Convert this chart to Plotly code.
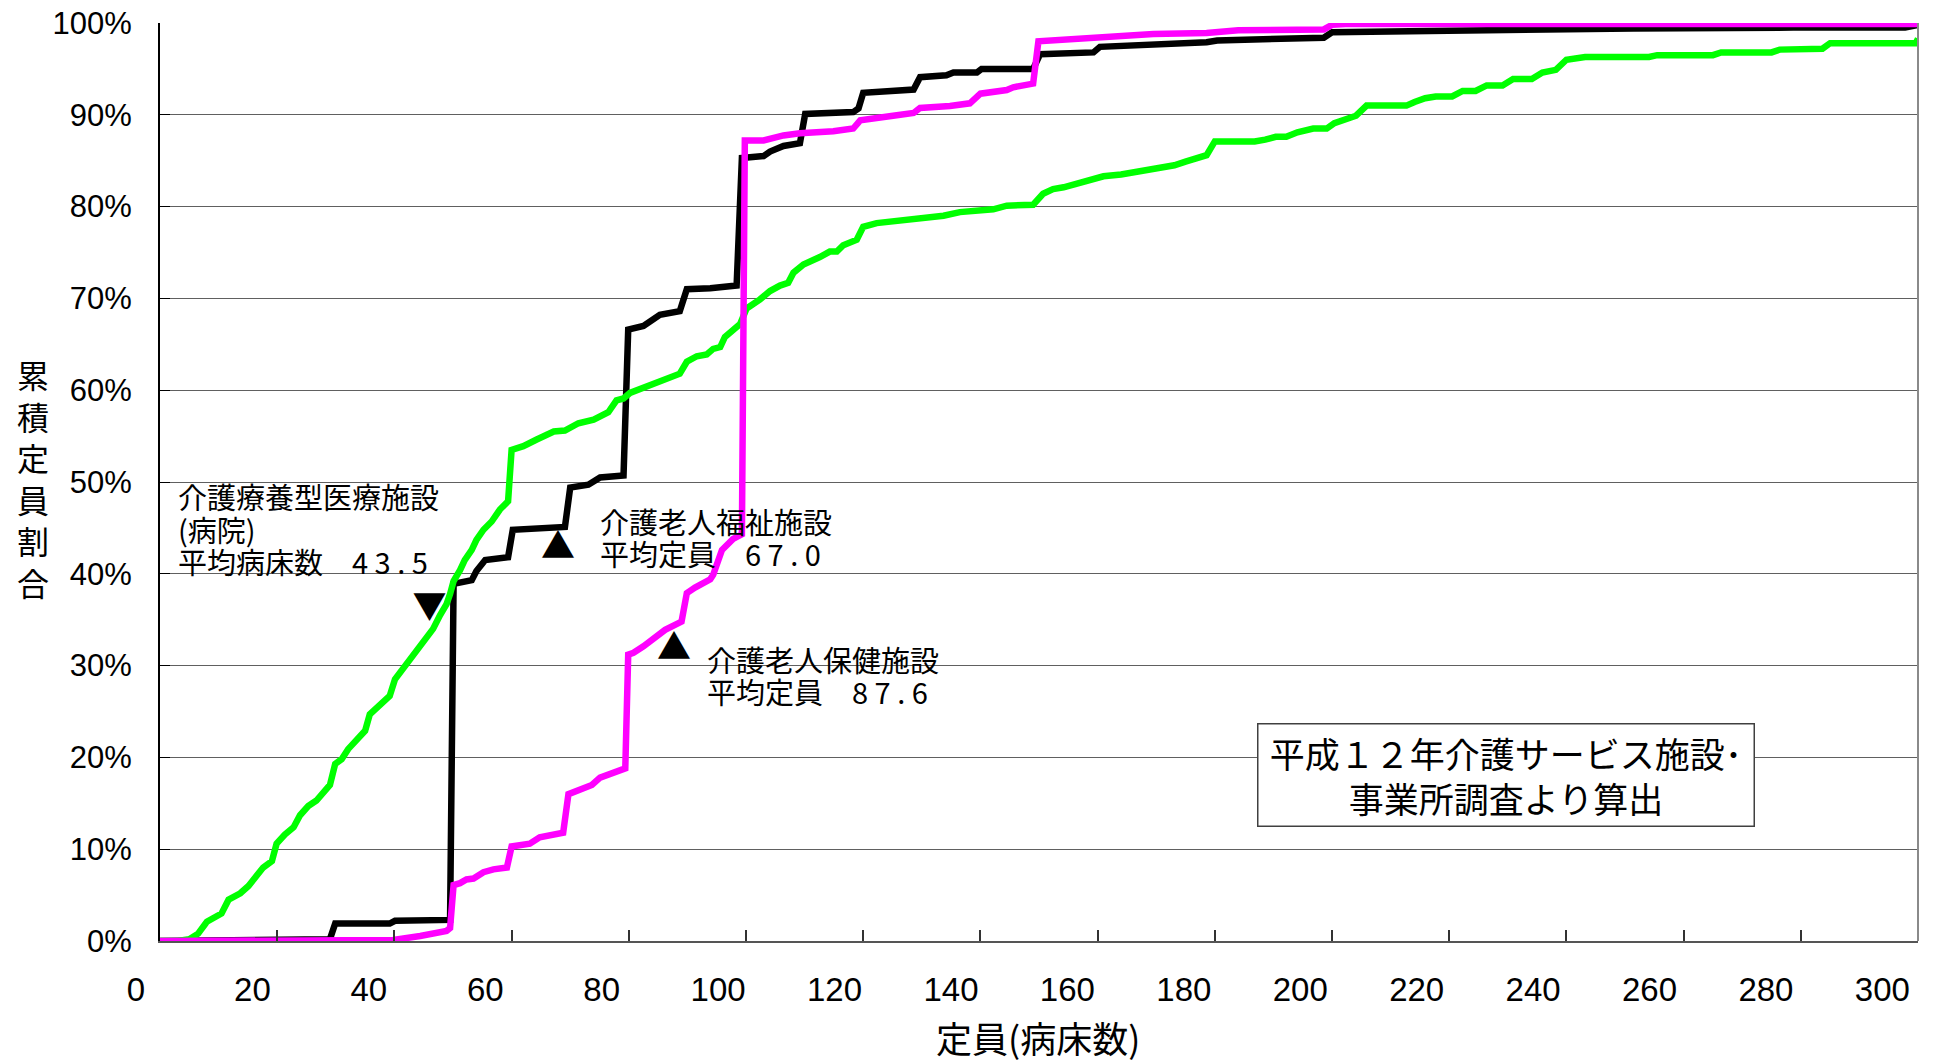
import plotly.graph_objects as go

# 介護療養型医療施設 (病院): cumulative capacity share (%) vs beds
ryoyo_x = [0, 3, 5, 6.5, 8, 9.4, 10.5, 11.7, 13.7, 15.1, 16.2, 17.6, 19.1, 19.9, 21.3, 22.8, 23.9, 25.3,
           26.7, 27.9, 29, 29.9, 31, 32.1, 33.6, 35, 35.8, 37.3, 38.4, 39.2, 40.1, 41.5, 42.4, 43.2, 44.7,
           45.5, 46.6, 47.8, 48.9, 49.5, 50.1, 51.2, 52, 53.2, 54, 55.2, 56.6, 58, 59.4, 60, 62, 64.2, 67.2,
           69.1, 71.4, 74, 76.5, 77.9, 79.1, 80.2, 82.5, 86.5, 88.7, 89.9, 91.6, 93.3, 94.4, 95.6, 96.4, 99,
           100.1, 102.4, 104.1, 105.8, 107.2, 108.1, 109.8, 112.6, 114.3, 115.5, 116.6, 118.9, 120, 122.3,
           126.3, 129.7, 133.7, 136.5, 142.2, 144.5, 149, 150.7, 152.4, 154.2, 156.4, 158.7, 161, 164, 166.8,
           168.6, 173.1, 175, 176.8, 178.6, 180, 186.8, 188.6, 190.4, 192.2, 194.1, 196.8, 199.1, 200.4,
           202.3, 204.1, 205.9, 212.7, 214.1, 215.9, 217.7, 220.5, 222.3, 224.5, 226.4, 229.1, 230.9, 234.1,
           235.9, 238.2, 240, 242.3, 243.2, 254.1, 255.5, 265, 266.4, 275, 276.4, 283.7, 285, 299.6, 300]
ryoyo_y = [0, 0, 0.2, 0.8, 2.1, 2.5, 3, 4.5, 5.2, 6, 7, 8, 8.7, 10.6, 11.6, 12.4, 13.7, 14.7,
           15.3, 16.3, 17, 19.3, 19.8, 20.9, 21.9, 22.9, 24.7, 25.6, 26.4, 26.7, 28.5, 29.7, 30.4, 30.9, 32.2,
           33.1, 34, 35.5, 36.7, 37.8, 39.2, 40.4, 41.5, 42.6, 43.7, 44.8, 45.7, 47, 47.9, 53.5, 53.9, 54.6, 55.5,
           55.6, 56.4, 56.8, 57.6, 58.9, 59.1, 59.7, 60.3, 61.2, 61.8, 63.1, 63.7, 63.9, 64.5, 64.7, 65.8, 67.2,
           68.9, 69.9, 70.8, 71.4, 71.7, 72.8, 73.7, 74.5, 75.1, 75.1, 75.8, 76.4, 77.8, 78.2,
           78.5, 78.8, 79, 79.4, 79.7, 80.1, 80.2, 81.4, 81.9, 82.1, 82.5, 82.9, 83.3, 83.5, 83.8,
           84.1, 84.5, 84.9, 85.2, 85.6, 87.1, 87.1, 87.3, 87.6, 87.6, 88.1, 88.5, 88.5, 89.1,
           89.5, 89.9, 91, 91, 91.4, 91.8, 92, 92, 92.6, 92.6, 93.2, 93.2, 93.9, 93.9,
           94.6, 94.9, 96, 96.1, 96.3, 96.3, 96.5, 96.5, 96.8, 96.8, 97.1, 97.2, 97.8, 97.8, 98.3]

# 介護老人福祉施設
fukushi_x = [0, 29, 29.9, 39.2, 40.1, 48.4, 49.5, 50.1, 53.2, 54, 55.5, 59.4, 60.2, 69.1, 70, 73.1, 75.1,
             79.1, 79.9, 82.5, 83.6, 85.3, 88.7, 89.9, 93.9, 98.4, 99.3, 103, 104.1, 106.4, 109.2, 110.1,
             118.3, 119.2, 120, 124, 128.6, 129.7, 134.2, 135.4, 139.4, 140.2, 149, 150.2, 159.3, 160.4,
             169, 170.4, 178.6, 180.4, 187.7, 198.6, 200, 205.9, 219.5, 233.2, 251.4, 278.7, 297.8, 300]
fukushi_y = [0, 0.2, 1.9, 1.9, 2.2, 2.2, 2.3, 38.9, 39.3, 40.3, 41.5, 41.8, 44.8, 45.1, 49.4, 49.7, 50.5,
             50.7, 66.6, 67, 67.4, 68.2, 68.6, 71, 71.1, 71.4, 85.3, 85.5, 86, 86.6, 86.9, 90.1,
             90.3, 90.7, 92.4, 92.5, 92.75, 94.1, 94.3, 94.6, 94.6, 95, 95, 96.6, 96.8, 97.4,
             97.6, 97.8, 97.9, 98.1, 98.2, 98.4, 99, 99.05, 99.3, 99.3, 99.4, 99.5, 99.5, 99.8]

# 介護老人保健施設
hoken_x = [0, 39.8, 44.4, 48.9, 49.5, 50.1, 51.2, 52.3, 53.5, 55.2, 56.9, 59.2, 60, 63.1, 64.8, 68.8, 69.7,
           71.4, 73.7, 75.1, 78.5, 79.4, 79.9, 80.8, 82.5, 84.8, 86.2, 89, 89.9, 91.3, 92.2, 93.9, 94.4, 95.9,
           97.8, 99.3, 99.8, 103, 106.4, 109.2, 114.9, 118.3, 119.5, 122.9, 125.1, 128.6, 129.7, 134.8,
           138.2, 140, 144.5, 145.6, 149, 149.9, 154.7, 158.1, 163.8, 169.5, 178.6, 180.4, 184, 198.6, 200,
           202.3, 300]
hoken_y = [0, 0.1, 0.55, 1.1, 1.4, 6.1, 6.3, 6.7, 6.8, 7.5, 7.8, 8, 10.3, 10.6, 11.3, 11.8, 16,
           16.5, 17, 17.8, 18.6, 18.8, 31.2, 31.4, 32.1, 33.2, 33.9, 34.8, 37.9, 38.5, 38.8, 39.4, 39.9, 42.6,
           43.8, 44.3, 87.2, 87.2, 87.75, 88, 88.2, 88.5, 89.4, 89.6, 89.9, 90.2, 90.75, 90.95,
           91.25, 92.3, 92.7, 93, 93.4, 98, 98.2, 98.5, 98.6, 98.8, 98.9, 99, 99.2, 99.3, 99.8,
           99.9, 99.9]

x_ticks = list(range(0, 301, 20))
x_ticktext = [str(v) for v in x_ticks]
y_ticks = list(range(0, 101, 10))
y_ticktext = [f"{v}%" for v in y_ticks]

mean_marker_x = [46.0, 67.9, 87.7]
mean_marker_y = [36.0, 42.6, 31.6]
mean_marker_text = ["▼", "▲", "▲"]

note_texts = ["介護療養型医療施設", "(病院)", "平均病床数　4 3 . 5",
              "介護老人福祉施設", "平均定員　6 7 . 0",
              "介護老人保健施設", "平均定員　8 7 . 6"]
note_x = [2.7, 2.7, 2.7, 74.8, 74.8, 93.0, 93.0]
note_y = [48.45, 44.93, 41.36, 45.7, 42.3, 30.75, 27.2]

source_text = "平成１２年介護サービス施設･<br>事業所調査より算出"
x_title = "定員(病床数)"
y_title = "累<br>積<br>定<br>員<br>割<br>合"

CJK = "Noto Sans CJK JP"
NARROW = "Liberation Sans Narrow, Arial Narrow, Liberation Sans, Arial, sans-serif"

fig = go.Figure()
fig.add_trace(go.Scatter(x=fukushi_x, y=fukushi_y, mode="lines", name="介護老人福祉施設",
                         line=dict(color="#000000", width=6.5)))
fig.add_trace(go.Scatter(x=ryoyo_x, y=ryoyo_y, mode="lines", name="介護療養型医療施設",
                         line=dict(color="#00FF00", width=6.5)))
fig.add_trace(go.Scatter(x=hoken_x, y=hoken_y, mode="lines", name="介護老人保健施設",
                         line=dict(color="#FF00FF", width=6.5)))
fig.add_trace(go.Scatter(x=mean_marker_x, y=mean_marker_y, mode="text", text=mean_marker_text,
                         textposition="middle center", cliponaxis=False,
                         textfont=dict(family=CJK, size=34, color="#000000"), name="平均"))
# invisible trace so the tick-label axis is drawn
fig.add_trace(go.Scatter(x=[x_ticks[0], x_ticks[-1]], y=[0, 0], xaxis="x2", mode="markers",
                         marker=dict(opacity=0), hoverinfo="skip", showlegend=False))

annotations = []
for t, xv, yv in zip(note_texts, note_x, note_y):
    annotations.append(dict(text=t, x=xv, y=yv, xref="x", yref="y", xanchor="left", yanchor="middle",
                            showarrow=False, font=dict(family=CJK, size=29, color="#000000")))
annotations.append(dict(text=source_text, x=0.7659, y=0.1803, xref="paper", yref="paper",
                        xanchor="center", yanchor="middle", showarrow=False, align="center",
                        width=495, height=101, bgcolor="#FFFFFF", bordercolor="#404040",
                        borderwidth=1.5, borderpad=0,
                        font=dict(family=CJK, size=35, color="#000000")))
annotations.append(dict(text=x_title, x=0.4994, y=-0.1045, xref="paper", yref="paper",
                        xanchor="center", yanchor="middle", showarrow=False,
                        font=dict(family=CJK, size=36, color="#000000")))
annotations.append(dict(text=y_title, x=-0.072, y=0.5044, xref="paper", yref="paper",
                        xanchor="center", yanchor="middle", showarrow=False,
                        font=dict(family=CJK, size=32, color="#000000")))

fig.update_layout(
    width=1936, height=1063,
    margin=dict(l=160, r=18, t=23, b=122),
    paper_bgcolor="#FFFFFF", plot_bgcolor="#FFFFFF",
    showlegend=False,
    xaxis=dict(range=[0, 300], tickvals=x_ticks, showticklabels=False, automargin=False,
               ticks="inside", ticklen=11, tickwidth=1.5, tickcolor="#333333",
               showgrid=False, zeroline=False, showline=True, linecolor="#555555", linewidth=2),
    xaxis2=dict(overlaying="x", anchor="y", side="bottom", range=[0, 302], automargin=False,
                tickvals=x_ticks, ticktext=x_ticktext, ticks="", showgrid=False, zeroline=False,
                showline=False, ticklabelshift=-24, ticklabelstandoff=26, ticklabeloverflow="allow",
                tickfont=dict(family=NARROW, size=33, color="#000000")),
    yaxis=dict(range=[0, 100], tickvals=y_ticks, ticktext=y_ticktext, automargin=False,
               ticks="inside", ticklen=10, tickwidth=1, tickcolor="#000000",
               showgrid=True, gridcolor="#606060", gridwidth=1.2, zeroline=False,
               showline=True, linecolor="#000000", linewidth=2, ticklabelstandoff=20,
               ticklabeloverflow="allow",
               tickfont=dict(family=NARROW, size=31, color="#000000")),
    annotations=annotations,
    shapes=[dict(type="line", xref="paper", yref="paper", x0=1, x1=1, y0=0, y1=1,
                 line=dict(color="#8A8A8A", width=2))],
)

fig.write_html("out.html", config={"displayModeBar": False},
               post_script="document.body.style.margin='0';document.body.style.overflow='hidden';")
